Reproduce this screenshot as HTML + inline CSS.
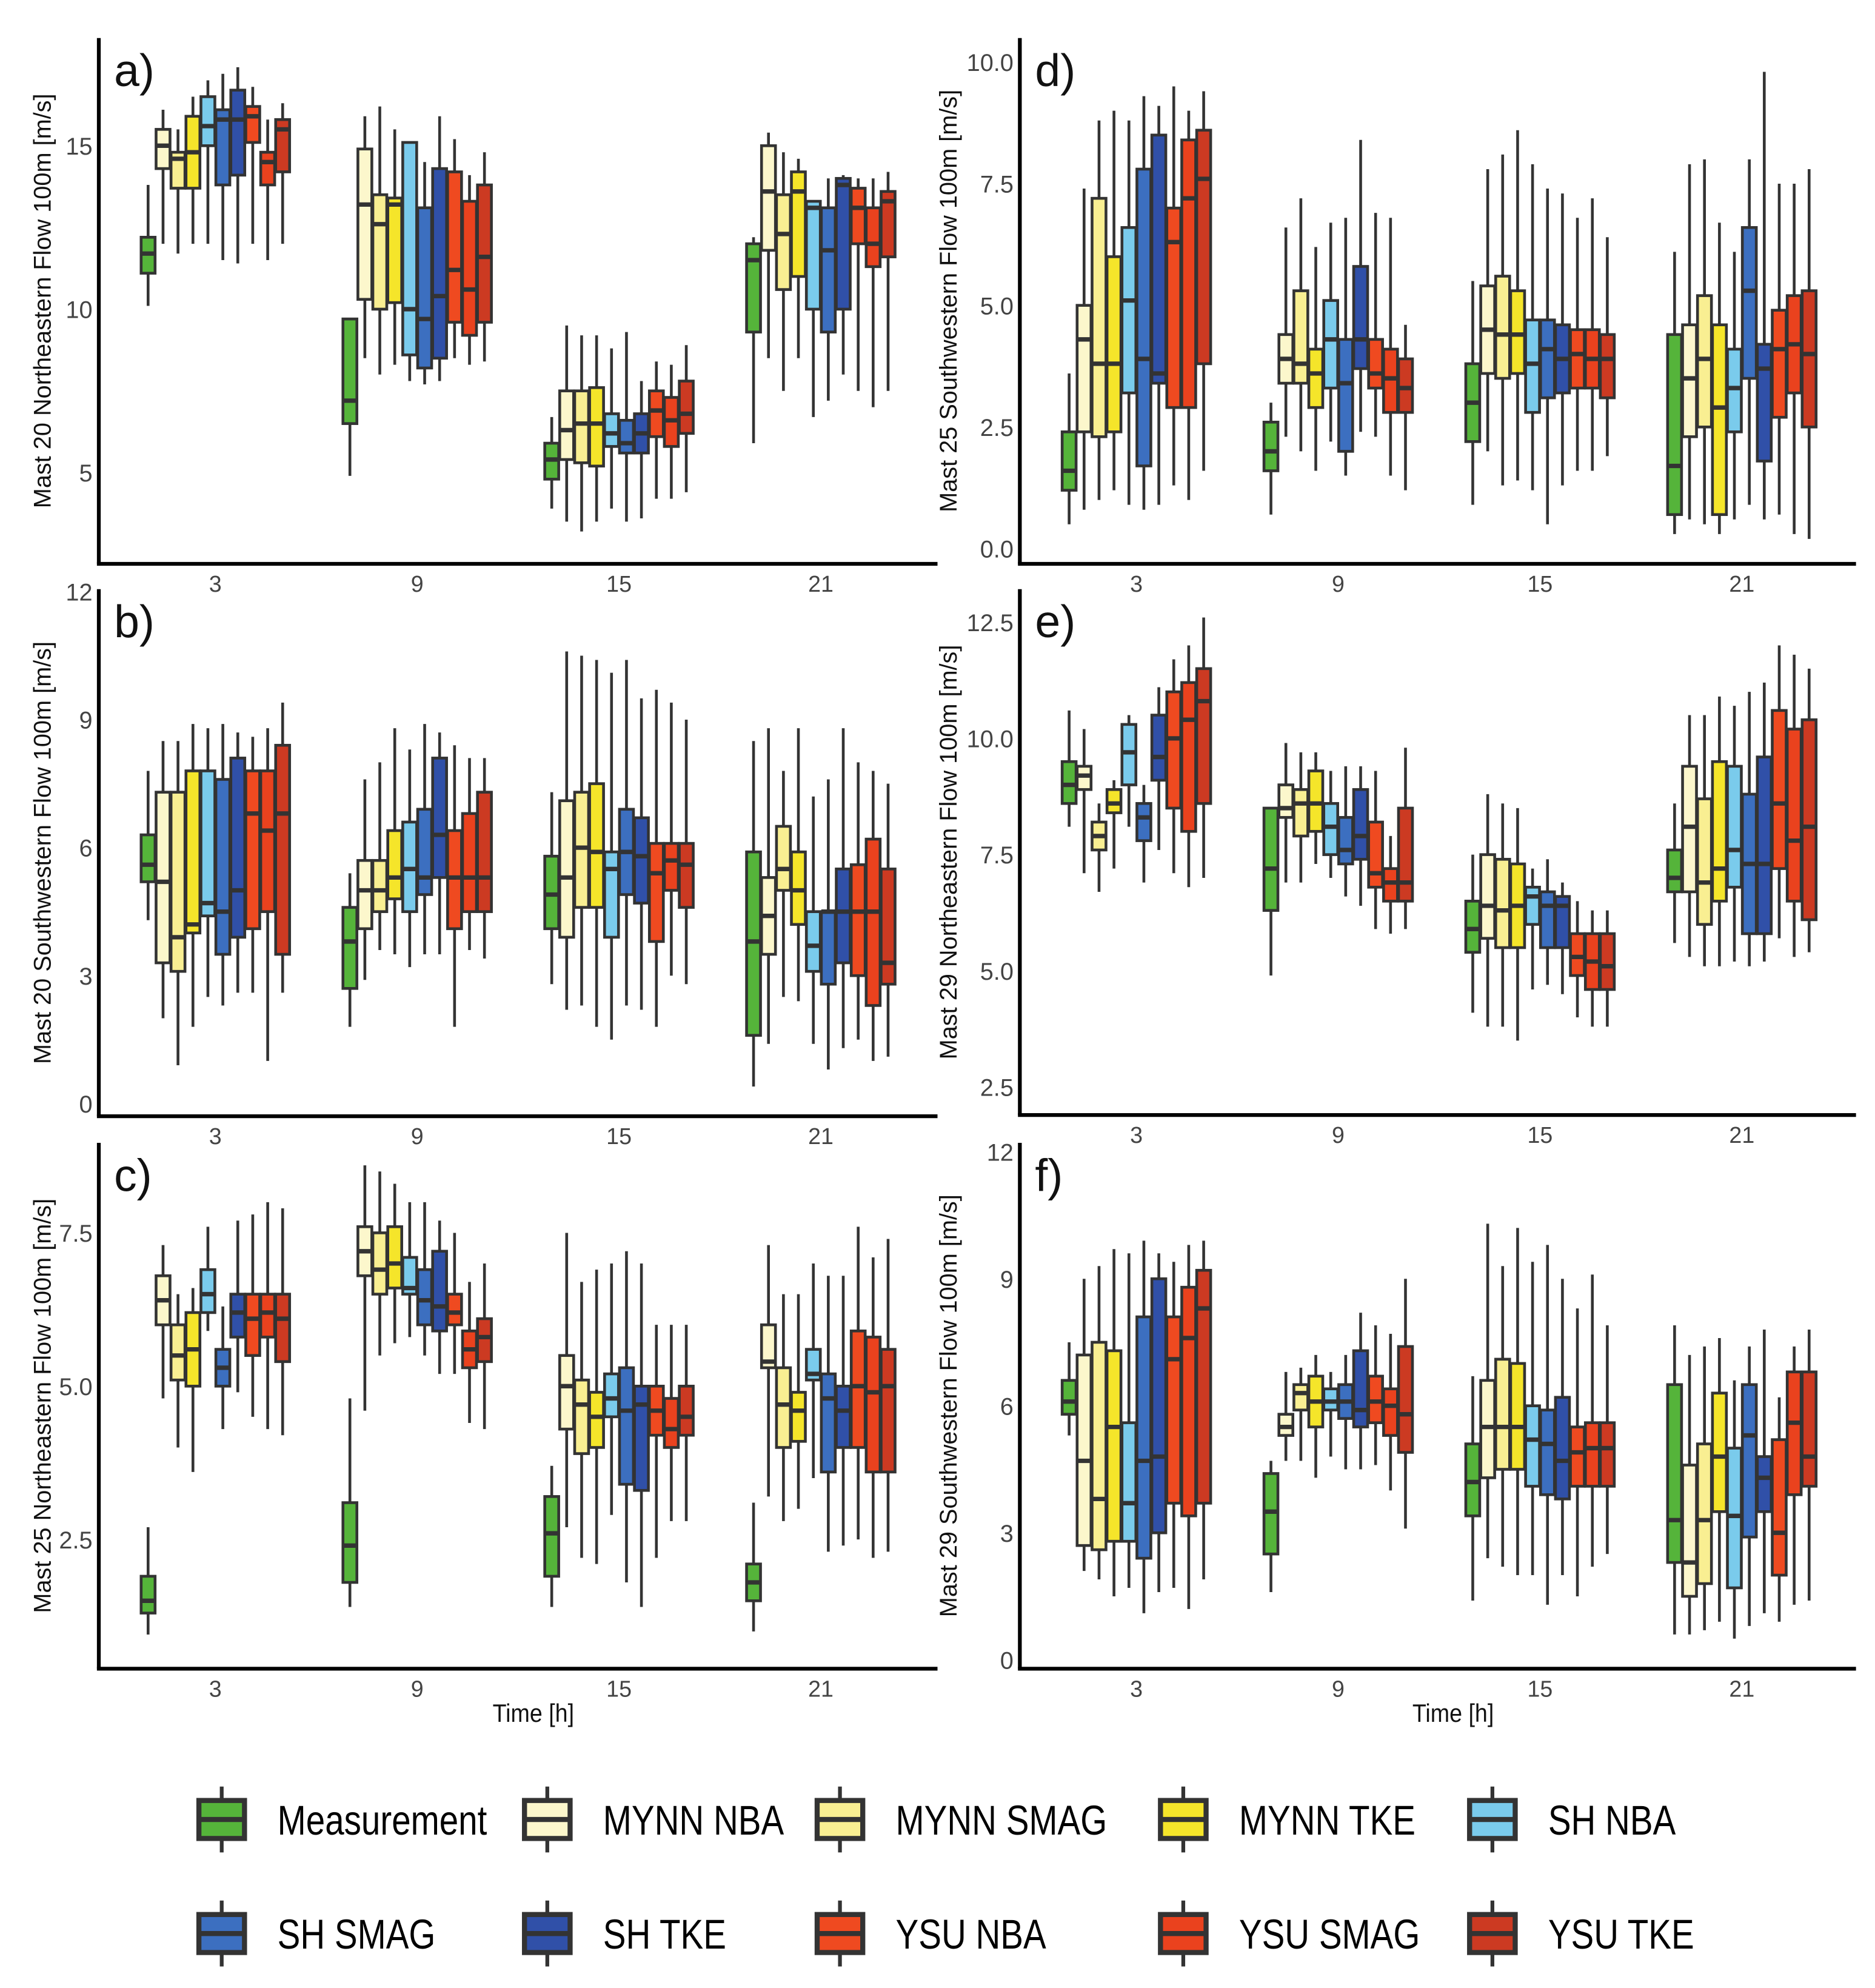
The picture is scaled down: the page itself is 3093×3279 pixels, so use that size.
<!DOCTYPE html>
<html><head><meta charset="utf-8"><style>
html,body{margin:0;padding:0;background:#fff}
svg{display:block}
text{font-family:"Liberation Sans",sans-serif}
</style></head><body>
<svg id="chart" xmlns="http://www.w3.org/2000/svg" width="3093" height="3279" viewBox="0 0 1480 1569">
<rect width="1480" height="1569" fill="#fff"/>
<g id="panels"></g>
<g id="legend"></g>
</svg>
<script>
const times = [3, 9, 15, 21];
const seriesNames = ["Measurement","MYNN NBA","MYNN SMAG","MYNN TKE","SH NBA","SH SMAG","SH TKE","YSU NBA","YSU SMAG","YSU TKE"];
const seriesColors = ["#55b43a","#fcf7cc","#f9ef92","#f5e52a","#7acbec","#3c6fc0","#3050a8","#ef4a20","#ea421e","#cc3a22"];
// each entry: [lowWhisker, q1, median, q3, highWhisker], 10 per time (times 3,9,15,21)
const panelA = [
[10.1,11.1,11.7,12.2,13.8],[12,14.3,15.0,15.5,16.1],[11.7,13.7,14.6,14.8,15.5],[12,13.7,14.8,15.9,16.5],[12,15,15.6,16.5,17],[11.5,13.8,15.8,16.1,17.2],[11.4,14.1,15.8,16.7,17.4],[12,15.1,15.9,16.2,16.8],[11.5,13.8,14.5,14.8,15.8],[12,14.2,15.5,15.8,16.3],
[4.9,6.5,7.2,9.7,9.7],[8.5,10.3,13.2,14.9,15.9],[8,10,12.6,13.5,16.2],[8.3,10.2,13.2,13.4,15.5],[7.8,8.6,10,15.1,15.1],[7.7,8.2,9.7,13.1,14.5],[7.8,8.5,10.4,14.3,15.9],[8.5,9.6,11.2,14.2,15.2],[8.3,9.2,10.6,13.3,14.1],[8.4,9.6,11.6,13.8,14.8],
[3.9,4.8,5.4,5.9,6.7],[3.5,5.4,6.3,7.5,9.5],[3.2,5.3,6.5,7.5,9.2],[3.5,5.2,6.5,7.6,9.2],[3.9,5.8,6.2,6.8,8.8],[3.5,5.6,5.9,6.6,9.3],[3.6,5.6,6.2,6.8,7.8],[4.2,6.1,6.9,7.5,8.4],[4.2,5.8,6.6,7.3,8.3],[4.4,6.2,6.8,7.8,8.9],
[5.9,9.3,11.5,12,12.2],[8.5,11.8,13.6,15,15.4],[7.5,10.6,12.3,13.5,14.8],[8.5,11,13.6,14.2,14.6],[6.7,10,13.1,13.3,13.3],[7.2,9.3,11.8,13.1,14],[8,10,13.8,14,14.1],[7.5,12,13.1,13.7,14],[7,11.3,12,13.1,14],[7.5,11.6,13.3,13.6,14.2]];
const panelB = [
[4.3,5.2,5.6,6.3,7.8],[2,3.3,5.2,7.3,8.5],[0.9,3.1,3.9,7.3,8.5],[1.8,4,4.2,7.8,8.9],[2.5,4.4,4.7,7.8,8.8],[2.3,3.5,4.5,7.6,8.9],[2.6,3.9,5,8.1,8.7],[2.6,4.1,6.8,7.8,8.6],[1.0,4.5,6.4,7.8,8.8],[2.6,3.5,6.8,8.4,9.4],
[1.8,2.7,3.8,4.6,5.4],[2.9,4.1,5,5.7,7.6],[3.6,4.5,5,5.7,8],[3.5,4.8,5.3,6.4,8.8],[3.2,4.5,5.5,6.6,8.3],[3.5,4.9,5.3,6.9,8.9],[3.5,5.3,6.3,8.1,8.7],[1.8,4.1,5.3,6.4,8.4],[3.6,4.5,5.3,6.8,8.1],[3.4,4.5,5.3,7.3,8.1],
[2.8,4.1,4.9,5.8,7.3],[2.2,3.9,5.3,7.1,10.6],[2.3,4.6,6,7.3,10.5],[1.8,4.6,5.9,7.5,10.4],[1.5,3.9,5.5,5.9,10.1],[2.3,4.9,5.9,6.9,10.4],[2.2,4.7,5.8,6.7,9.5],[1.8,3.8,5.4,6.1,9.7],[3,5,5.7,6.1,9.4],[2.8,4.6,5.6,6.1,9.0],
[0.4,1.6,3.8,5.9,8.5],[1.4,3.5,4.4,5.3,8.8],[2.5,5,5.5,6.5,7.8],[2.4,4.2,5,5.9,8.8],[1.4,3.1,3.7,4.5,7.2],[0.8,2.8,4.5,4.5,7.6],[1.3,3.3,4.5,5.5,8.8],[1.5,3,4.5,5.6,8.0],[1,2.3,4.5,6.2,7.8],[1.1,2.8,3.3,5.5,7.5]];
const panelC = [
[0.95,1.3,1.5,1.9,2.7],[4.8,6,6.4,6.8,7.3],[4,5.1,5.5,6,6.5],[3.6,5,5.6,6.2,6.6],[5.9,6.2,6.5,6.9,7.6],[4.3,5,5.3,5.6,6.3],[4.9,5.8,6.2,6.5,7.7],[4.5,5.5,6.1,6.5,7.8],[4.3,5.8,6.2,6.5,8],[4.2,5.4,6.1,6.5,7.9],
[1.4,1.8,2.4,3.1,4.8],[4.6,6.8,7.2,7.6,8.6],[5.5,6.5,6.9,7.5,8.5],[5.7,6.6,7,7.6,8.3],[5.8,6.5,6.6,7.1,8],[5.5,6,6.4,6.9,8],[5.2,5.9,6.3,7.2,7.7],[5.2,6,6.2,6.5,7.5],[4.4,5.3,5.6,5.9,6.7],[4.3,5.4,5.8,6.1,7.0],
[1.4,1.9,2.6,3.2,3.7],[2.7,4.3,5,5.5,7.5],[2.2,3.9,4.7,5.1,6.7],[2.1,4.0,4.5,4.9,6.9],[2.9,4.5,4.8,5.2,7.0],[1.8,3.4,4.6,5.3,7.2],[1.4,3.3,4.7,5,7.0],[2.2,4.2,4.6,5,6.0],[2.8,4.0,4.3,4.8,6.0],[2.8,4.2,4.5,5,6.0],
[1,1.5,1.8,2.1,3.1],[3.2,5.3,5.4,6,7.3],[2.8,4.0,4.7,5.3,6.5],[3,4.1,4.6,4.9,6.5],[3.5,5.1,5.2,5.6,7],[2.3,3.6,4.8,5.2,6.8],[2.4,4,4.6,5,6.8],[2.5,4,5,5.9,7.6],[2.2,3.6,4.9,5.8,7.1],[2.3,3.6,5,5.6,7.4]];
const panelD = [
[0.5,1.2,1.6,2.4,3.6],[0.8,2.4,4.3,5,7.4],[1,2.3,3.8,7.2,8.8],[1.2,2.4,3.8,6,9.0],[0.9,3.2,5.1,6.6,8.8],[0.8,1.7,3.9,7.8,9.3],[0.9,3.4,3.6,8.5,9.1],[1.3,2.9,6.3,7,9.5],[1.0,2.9,7.2,8.4,9.0],[1.6,3.8,7.6,8.6,9.4],
[0.7,1.6,2,2.6,3],[2.3,3.4,3.9,4.4,6.6],[2.0,3.4,3.8,5.3,7.2],[1.6,2.9,3.6,4.1,6.2],[2.2,3.3,4.3,5.1,6.7],[1.5,2.0,3.4,4.3,6.8],[2.4,3.7,4.3,5.8,8.4],[2.3,3.3,3.6,4.3,6.9],[1.5,2.8,3.5,4.1,6.8],[1.2,2.8,3.3,3.9,4.6],
[0.9,2.2,3,3.8,5.5],[2.0,3.6,4.5,5.4,7.8],[1.3,3.5,4.4,5.6,8.1],[1.4,3.6,4.4,5.3,8.6],[1.2,2.8,3.8,4.7,7.9],[0.5,3.1,4.1,4.7,7.4],[1.3,3.2,3.9,4.6,7.3],[1.6,3.3,4,4.5,6.8],[1.6,3.3,3.9,4.5,7.2],[1.9,3.1,3.9,4.4,6.4],
[0.3,0.7,1.7,4.4,6.1],[0.6,2.3,3.5,4.6,7.9],[0.5,2.5,3.9,5.2,8],[0.3,0.7,2.9,4.6,6.7],[0.6,2.4,3.3,4.1,6.1],[0.9,3.5,5.3,6.6,8],[0.6,1.8,3.7,4.2,9.8],[0.7,2.7,4.1,4.9,7.5],[0.3,3.2,4.2,5.2,7.5],[0.2,2.5,4,5.3,7.8]];
const panelE = [
[8.1,8.6,9.0,9.5,10.6],[7.1,8.9,9.2,9.4,10.2],[6.7,7.6,7.9,8.2,8.6],[7.2,8.4,8.6,8.9,9.1],[8.1,9.0,9.7,10.3,10.5],[6.9,7.8,8.3,8.6,9.0],[7.6,9.1,9.6,10.5,11.1],[7.1,8.5,10,11,11.7],[6.8,8,10.4,11.2,12],[7,8.6,10.8,11.5,12.6],
[4.9,6.3,7.2,8.5,8.5],[6.9,8.3,8.5,9,9.9],[6.9,7.9,8.6,8.9,9.7],[7.3,8,8.6,9.3,9.7],[7,7.5,8.1,8.6,9.3],[6.6,7.3,7.6,8.3,9.4],[6.4,7.4,7.9,8.9,9.4],[5.9,6.8,7.1,8.2,9.3],[5.8,6.5,6.9,7.2,7.9],[5.9,6.5,6.9,8.5,9.8],
[4.1,5.4,5.9,6.5,7.5],[3.8,5.7,6.4,7.5,8.8],[3.8,5.5,6.3,7.4,8.6],[3.5,5.5,6.4,7.3,8.5],[4.6,6,6.6,6.8,7.2],[4.7,5.5,6.4,6.7,7.4],[4.5,5.5,6.4,6.6,6.9],[4.0,4.9,5.3,5.8,6.5],[3.8,4.6,5.2,5.8,6.3],[3.8,4.6,5.1,5.8,6.3],
[5.6,6.7,7.0,7.6,8.6],[5.3,6.7,8.1,9.4,10.5],[5.1,6.0,6.9,8.7,10.5],[5.1,6.5,7.2,9.5,10.9],[5.2,6.8,7.6,9.4,10.7],[5.1,5.8,7.3,8.8,11.0],[5.2,5.8,7.3,9.6,11.2],[5.7,7.2,8.6,10.6,12.0],[5.3,6.5,7.8,10.2,11.8],[5.4,6.1,8.1,10.4,11.5]];
const panelF = [
[5.3,5.8,6.1,6.6,7.5],[2.1,2.7,4.7,7.2,9.0],[1.9,2.6,3.8,7.5,9.3],[1.5,2.8,5.5,7.3,9.7],[1.7,2.8,3.7,5.6,9.6],[1.1,2.4,4.7,8.1,9.9],[1.6,3.0,4.8,9.0,9.6],[1.7,3.7,7.1,8.1,9.4],[1.2,3.4,7.6,8.8,9.8],[1.9,3.7,8.3,9.2,9.9],
[1.6,2.5,3.5,4.4,4.7],[4.7,5.3,5.5,5.8,6.8],[4.7,5.9,6.3,6.5,6.9],[4.3,5.5,6.1,6.7,7.2],[4.8,5.9,6.1,6.4,6.8],[4.5,5.7,6.1,6.5,7.2],[4.5,5.5,5.9,7.3,8.2],[4.6,5.6,6.1,6.7,7.9],[4.0,5.3,6.0,6.4,7.7],[3.1,4.9,5.8,7.4,9.0],
[1.4,3.4,4.2,5.1,6.7],[2.4,4.3,5.5,6.6,10.3],[2.2,4.5,5.5,7.1,9.3],[2.0,4.5,5.5,7.0,10.2],[2.0,4.1,5.2,6.0,9.4],[1.3,3.9,5.1,5.9,9.8],[2.0,3.8,4.7,6.2,9.0],[1.5,4.1,4.9,5.5,8.3],[2.2,4.1,5.0,5.6,9.1],[2.5,4.1,5.0,5.6,7.9],
[0.6,2.3,3.3,6.5,7.9],[0.6,1.5,2.3,4.6,7.2],[0.7,1.8,3.3,5.1,7.4],[0.9,3.5,4.8,6.3,7.6],[0.5,1.7,3.4,5.0,6.6],[0.8,2.9,5.3,6.5,7.4],[1.1,3.5,4.3,4.8,7.8],[0.9,2.0,3.0,5.2,6.2],[1.3,3.9,5.6,6.8,7.4],[1.4,4.1,4.8,6.8,7.8]];

const yTicksA = [5,10,15], yTickLabA = ["5","10","15"];
const yTicksB = [0,3,6,9,12], yTickLabB = ["0","3","6","9","12"];
const yTicksC = [2.5,5,7.5], yTickLabC = ["2.5","5.0","7.5"];
const yTicksD = [0,2.5,5,7.5,10], yTickLabD = ["0.0","2.5","5.0","7.5","10.0"];
const yTicksE = [2.5,5,7.5,10,12.5], yTickLabE = ["2.5","5.0","7.5","10.0","12.5"];
const yTicksF = [0,3,6,9,12], yTickLabF = ["0","3","6","9","12"];

const NS = "http://www.w3.org/2000/svg";
function mk(tag, attrs, parent){const e=document.createElementNS(NS,tag);for(const k in attrs)e.setAttribute(k,attrs[k]);parent.appendChild(e);return e;}

const panels = [
 {id:"a",data:panelA,ticks:yTicksA,labs:yTickLabA,x0:78,x1:740,yb:445,ytop:30,v0:5,p0:373,v1:15,p1:115,title:"Mast 20 Northeastern Flow 100m [m/s]",xt:false,td:38},
 {id:"b",data:panelB,ticks:yTicksB,labs:yTickLabB,x0:78,x1:740,yb:881,ytop:465,v0:0,p0:871,v1:12,p1:467,title:"Mast 20 Southwestern Flow 100m [m/s]",xt:false,td:38},
 {id:"c",data:panelC,ticks:yTicksC,labs:yTickLabC,x0:78,x1:740,yb:1317,ytop:902,v0:2.5,p0:1215,v1:7.5,p1:973,title:"Mast 25 Northeastern Flow 100m [m/s]",xt:true,td:38},
 {id:"d",data:panelD,ticks:yTicksD,labs:yTickLabD,x0:805,x1:1465,yb:445,ytop:30,v0:0,p0:433,v1:10,p1:49,title:"Mast 25 Southwestern Flow 100m [m/s]",xt:false,td:50},
 {id:"e",data:panelE,ticks:yTicksE,labs:yTickLabE,x0:805,x1:1465,yb:880,ytop:465,v0:2.5,p0:858,v1:12.5,p1:491,title:"Mast 29 Northeastern Flow 100m [m/s]",xt:false,td:50},
 {id:"f",data:panelF,ticks:yTicksF,labs:yTickLabF,x0:805,x1:1465,yb:1317,ytop:902,v0:0,p0:1310,v1:12,p1:909,title:"Mast 29 Southwestern Flow 100m [m/s]",xt:true,td:50}
];
const root=document.getElementById("panels");
panels.forEach(p=>{
 const g=mk("g",{},root);
 
 
 const ys=v=>p.p0+(v-p.v0)*(p.p1-p.p0)/(p.v1-p.v0);
 const xs=t=>p.x0+92+(t-3)/6*159.3;
 const ya=mk("line",{x1:p.x0,y1:p.ytop,x2:p.x0,y2:p.yb,stroke:"#000","stroke-width":3},g);
 
 
 const xa=mk("line",{x1:p.x0-1.5,y1:p.yb,x2:p.x1,y2:p.yb,stroke:"#000","stroke-width":3},g);
 
 
 p.ticks.forEach((v,i)=>{
  const t=mk("text",{x:p.x0-5,y:ys(v)+7,"text-anchor":"end","font-size":19,fill:"#444"},g);
  t.textContent=p.labs[i];
  
  
 });
 times.forEach(tm=>{
  const t=mk("text",{x:xs(tm),y:p.yb+22,"text-anchor":"middle","font-size":18,fill:"#444"},g);
  t.textContent=String(tm);
  
  
 });
 const cy=(p.ytop+p.yb)/2, tx=p.x0-p.td;
 const yt=mk("text",{x:tx,y:cy,"text-anchor":"middle","font-size":19,fill:"#111",transform:`rotate(-90 ${tx} ${cy})`},g);
 yt.textContent=p.title;
 
 
 const pl=mk("text",{x:p.x0+12,y:p.ytop+38,"font-size":36,fill:"#111"},g);
 pl.textContent=p.id+")";
 
 
 if(p.xt){
  const xt=mk("text",{x:((p.x0+p.x1)/2+12)/0.9,y:p.yb+42,"text-anchor":"middle","font-size":20,fill:"#111",transform:`scale(0.9 1)`},g);
  xt.textContent="Time [h]";
  
  
 }
 times.forEach((tm,ti)=>{
  for(let s=0;s<10;s++){
   const d=p.data[ti*10+s];
   const cx=xs(tm)+(s-4.5)*11.8, w=11;
   const bg=mk("g",{},g);
   
   
   mk("line",{x1:cx,x2:cx,y1:ys(d[0]),y2:ys(d[4]),stroke:"#333","stroke-width":2.2},bg);
   const top=ys(d[3]),bot=ys(d[1]);
   mk("rect",{x:cx-w/2,y:top,width:w,height:Math.max(bot-top,1),fill:seriesColors[s],stroke:"#333","stroke-width":2.2},bg);
   mk("line",{x1:cx-w/2,x2:cx+w/2,y1:ys(d[2]),y2:ys(d[2]),stroke:"#333","stroke-width":3.5},bg);
  }
 });
});
const lg=document.getElementById("legend");
const legX=[175,432,663,934,1178], legY=[1436,1526];
seriesNames.forEach((n,i)=>{
 const r=Math.floor(i/5), c=i%5;
 const x=legX[c], y=legY[r];
 const e=mk("g",{},lg);
 
 
 mk("line",{x1:x,x2:x,y1:y-26,y2:y+26,stroke:"#333","stroke-width":3},e);
 mk("rect",{x:x-18,y:y-15,width:36,height:30,fill:seriesColors[i],stroke:"#333","stroke-width":4},e);
 mk("line",{x1:x-18,x2:x+18,y1:y,y2:y,stroke:"#333","stroke-width":4},e);
 const t=mk("text",{x:(x+44)/0.82,y:y+12,"font-size":33,fill:"#000",transform:"scale(0.82 1)"},e);
 t.textContent=n;
});
</script>
</body></html>
